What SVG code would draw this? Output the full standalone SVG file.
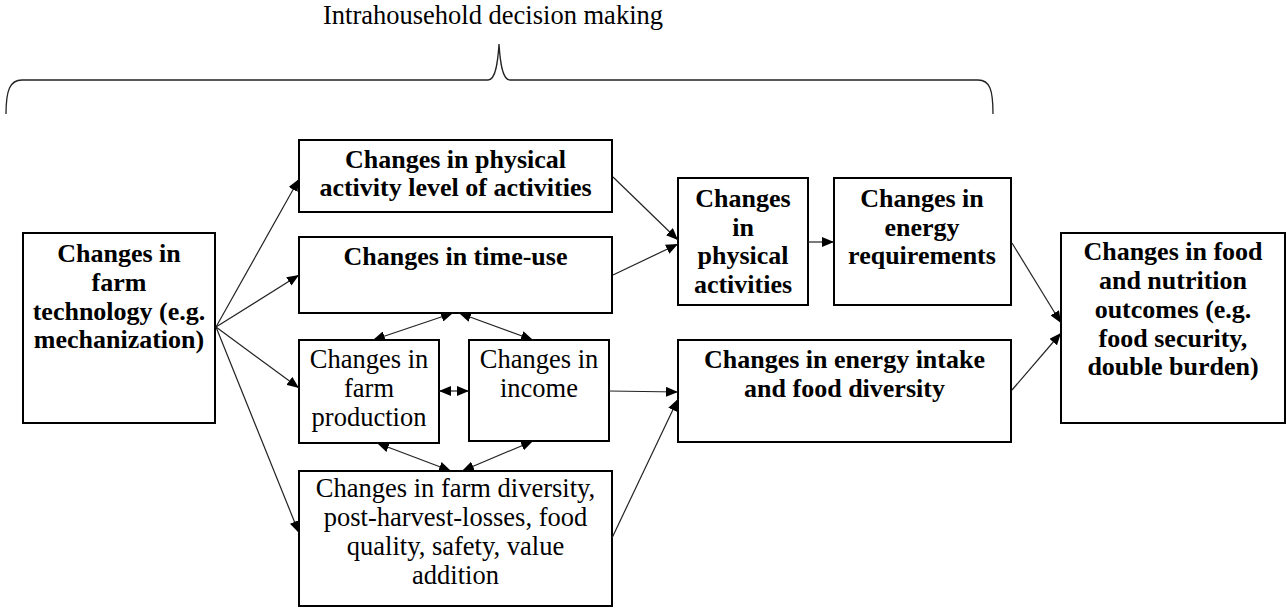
<svg xmlns="http://www.w3.org/2000/svg" width="1287" height="608" viewBox="0 0 1287 608">
<style>
text{font-family:'Liberation Serif','Times New Roman',serif;font-size:26.5px;text-anchor:middle;fill:#000}
.b{font-weight:bold;font-size:26px}
.box{fill:#fff;stroke:#000;stroke-width:2}
.ln{stroke:#222;stroke-width:1.2;fill:none}
</style>
<defs>
<marker id="ah" viewBox="0 0 12 10" refX="12" refY="5" markerWidth="12" markerHeight="10" markerUnits="userSpaceOnUse" orient="auto-start-reverse">
<path d="M0,0 L12,5 L0,10 z" fill="#000"/>
</marker>
</defs>
<rect width="1287" height="608" fill="#fff"/>
<g id="title">
<text x="493" y="24">Intrahousehold decision making</text>
<path d="M6,114 C6,90 10,80 22,80 L488,80 C496,80 498,60 499,44 C500,60 502,80 510,80 L978,80 C990,80 993,90 993,114" fill="none" stroke="#222" stroke-width="1.3"/>
</g>
<g id="tech">
<rect class="box" x="23" y="233" width="192" height="190"/>
<text class="b" x="119" y="262">Changes in</text>
<text class="b" x="119" y="291">farm</text>
<text class="b" x="119" y="320">technology (e.g.</text>
<text class="b" x="119" y="348">mechanization)</text>
</g>
<g id="pal">
<rect class="box" x="299" y="140" width="313" height="72"/>
<text class="b" x="455.5" y="168">Changes in physical</text>
<text class="b" x="455.5" y="196">activity level of activities</text>
</g>
<g id="time">
<rect class="box" x="299" y="237" width="313" height="76"/>
<text class="b" x="455.5" y="265">Changes in time-use</text>
</g>
<g id="prod">
<rect class="box" x="299" y="340" width="140" height="103"/>
<text x="369" y="368">Changes in</text>
<text x="369" y="397">farm</text>
<text x="369" y="426">production</text>
</g>
<g id="income">
<rect class="box" x="469" y="340" width="140" height="101"/>
<text x="539" y="368">Changes in</text>
<text x="539" y="397">income</text>
</g>
<g id="div">
<rect class="box" x="299" y="471" width="313" height="135"/>
<text x="455.5" y="497">Changes in farm diversity,</text>
<text x="455.5" y="526">post-harvest-losses, food</text>
<text x="455.5" y="555">quality, safety, value</text>
<text x="455.5" y="584">addition</text>
</g>
<g id="pa">
<rect class="box" x="678" y="178" width="130" height="127"/>
<text class="b" x="743" y="207">Changes</text>
<text class="b" x="743" y="236">in</text>
<text class="b" x="743" y="264">physical</text>
<text class="b" x="743" y="293">activities</text>
</g>
<g id="er">
<rect class="box" x="834" y="178" width="177" height="127"/>
<text class="b" x="922" y="207">Changes in</text>
<text class="b" x="922" y="236">energy</text>
<text class="b" x="922" y="264">requirements</text>
</g>
<g id="ei">
<rect class="box" x="678" y="340" width="333" height="102"/>
<text class="b" x="844.5" y="368">Changes in energy intake</text>
<text class="b" x="844.5" y="397">and food diversity</text>
</g>
<g id="out">
<rect class="box" x="1061" y="233" width="224" height="190"/>
<text class="b" x="1173" y="260">Changes in food</text>
<text class="b" x="1173" y="289">and nutrition</text>
<text class="b" x="1173" y="318">outcomes (e.g.</text>
<text class="b" x="1173" y="347">food security,</text>
<text class="b" x="1173" y="375">double burden)</text>
</g>
<g id="connectors">
<line class="ln" x1="216" y1="327" x2="299" y2="179" marker-end="url(#ah)"/>
<line class="ln" x1="216" y1="327" x2="299" y2="275" marker-end="url(#ah)"/>
<line class="ln" x1="216" y1="327" x2="299" y2="388" marker-end="url(#ah)"/>
<line class="ln" x1="216" y1="327" x2="299" y2="533" marker-end="url(#ah)"/>
<line class="ln" x1="613" y1="177" x2="678" y2="240" marker-end="url(#ah)"/>
<line class="ln" x1="613" y1="275" x2="678" y2="244" marker-end="url(#ah)"/>
<line class="ln" x1="808" y1="242" x2="834" y2="242" marker-end="url(#ah)"/>
<line class="ln" x1="1012" y1="243" x2="1061" y2="323" marker-end="url(#ah)"/>
<line class="ln" x1="1012" y1="390" x2="1061" y2="333" marker-end="url(#ah)"/>
<line class="ln" x1="609" y1="391" x2="678" y2="392" marker-end="url(#ah)"/>
<line class="ln" x1="612" y1="538" x2="678" y2="399" marker-end="url(#ah)"/>
<line class="ln" x1="373" y1="340" x2="453" y2="313" marker-start="url(#ah)" marker-end="url(#ah)"/>
<line class="ln" x1="459" y1="313" x2="533" y2="340" marker-start="url(#ah)" marker-end="url(#ah)"/>
<line class="ln" x1="377" y1="443" x2="451" y2="471" marker-start="url(#ah)" marker-end="url(#ah)"/>
<line class="ln" x1="533" y1="441" x2="462" y2="471" marker-start="url(#ah)" marker-end="url(#ah)"/>
<line class="ln" x1="439" y1="391" x2="469" y2="391" marker-start="url(#ah)" marker-end="url(#ah)"/>
</g>
</svg>
